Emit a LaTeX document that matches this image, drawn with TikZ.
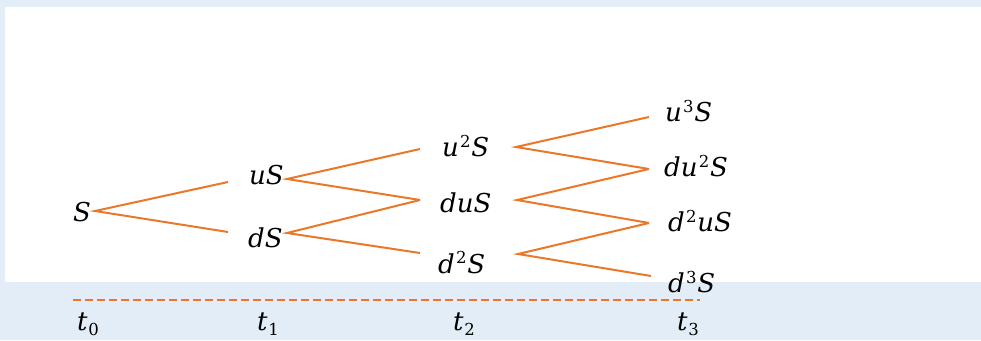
\documentclass[tikz,border=0pt]{standalone}
\usepackage{fontspec}
\setmainfont{DejaVu Serif}
\definecolor{bgblue}{RGB}{227,237,247}
\definecolor{treeorange}{RGB}{235,120,40}
\newcommand{\mysup}[1]{\kern1.2pt\raisebox{9pt}{\fontsize{16.5}{20}\selectfont\upshape #1}\kern0.8pt}
\newcommand{\mysub}[1]{\kern0.8pt\raisebox{-5pt}{\fontsize{16.5}{20}\selectfont\upshape #1}}
\begin{document}
\begin{tikzpicture}[x=1pt,y=1pt,
  lbl/.style={anchor=base west,inner sep=0pt,font=\fontsize{26}{31}\selectfont\itshape},
  branch/.style={draw=treeorange,line width=2pt},
  timeline/.style={draw=treeorange,line width=2pt,dash pattern=on 7.5pt off 4.5pt}]
\useasboundingbox (0,0) rectangle (981,340);
\fill[bgblue] (0,0) rectangle (981,340);
\fill[white] (5,58) rectangle (981,333);
% labels
\node[lbl] (S) at (73,118) {S};
\node[lbl] (uS) at (249,155) {uS};
\node[lbl] (dS) at (248,93) {dS};
\node[lbl] (uuS) at (442,183) {u\mysup{2}S};
\node[lbl] (duS) at (440,128) {duS};
\node[lbl] (ddS) at (438,67) {d\mysup{2}S};
\node[lbl] (uuuS) at (665,218) {u\mysup{3}S};
\node[lbl] (duuS) at (664,163) {du\mysup{2}S};
\node[lbl] (dduS) at (668,108) {d\mysup{2}uS};
\node[lbl] (dddS) at (668,48) {d\mysup{3}S};
\node[lbl] (t0) at (77,10) {t\mysub{0}};
\node[lbl] (t1) at (257,10) {t\mysub{1}};
\node[lbl] (t2) at (453,10) {t\mysub{2}};
\node[lbl] (t3) at (677,10) {t\mysub{3}};
% connection points
\coordinate (S-o) at (95,129);
\coordinate (uS-i) at (228,158);
\coordinate (uS-o) at (287,161);
\coordinate (dS-i) at (228,108);
\coordinate (dS-o) at (287,107);
\coordinate (uuS-i) at (420,191);
\coordinate (uuS-o) at (516,193);
\coordinate (duS-i) at (420,140);
\coordinate (duS-o) at (517,140);
\coordinate (ddS-i) at (420,87);
\coordinate (ddS-o) at (518,86);
\coordinate (uuuS-i) at (649,223);
\coordinate (duuS-i) at (649,171);
\coordinate (dduS-i) at (649,117);
\coordinate (dddS-i) at (651,64);
\coordinate (tl-a) at (73,40);
\coordinate (tl-b) at (700,40);
% branches
\draw[branch] (uS-i) -- (S-o) -- (dS-i);
\draw[branch] (uuS-i) -- (uS-o) -- (duS-i);
\draw[branch] (duS-i) -- (dS-o) -- (ddS-i);
\draw[branch] (uuuS-i) -- (uuS-o) -- (duuS-i);
\draw[branch] (duuS-i) -- (duS-o) -- (dduS-i);
\draw[branch] (dduS-i) -- (ddS-o) -- (dddS-i);
\draw[timeline] (tl-a) -- (tl-b);
\end{tikzpicture}
\end{document}
